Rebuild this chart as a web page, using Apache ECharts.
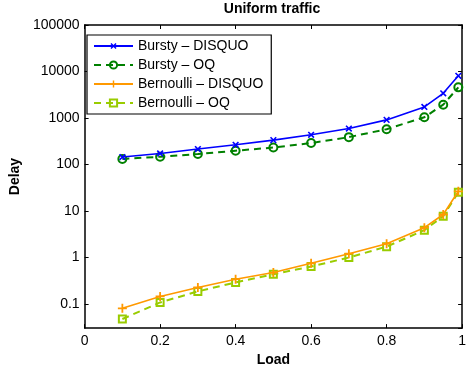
<!DOCTYPE html>
<html>
<head>
<meta charset="utf-8">
<script src="https://cdn.jsdelivr.net/npm/echarts@6/dist/echarts.min.js"></script>
<style>html,body{margin:0;padding:0;background:#fff}#c{width:469px;height:372px}</style>
</head>
<body>
<div id="c"></div>
<script>
const loads = [0.1, 0.2, 0.3, 0.4, 0.5, 0.6, 0.7, 0.8, 0.9, 0.95, 0.99];
const burstyDisquo = [144, 172, 214, 264, 333, 433, 591, 908, 1725, 3390, 8070];
const burstyOQ = [131, 146, 167, 197, 231, 288, 386, 573, 1035, 1930, 4550];
const bernoulliDisquo = [0.080, 0.144, 0.225, 0.339, 0.471, 0.745, 1.20, 1.97, 4.34, 8.36, 26.4];
const bernoulliOQ = [0.047, 0.107, 0.185, 0.288, 0.433, 0.634, 0.99, 1.70, 3.85, 7.69, 25.1];
const seriesNames = ['Bursty \u2013 DISQUO', 'Bursty \u2013 OQ', 'Bernoulli \u2013 DISQUO', 'Bernoulli \u2013 OQ'];
const yTickLabels = ['0.1', '1', '10', '100', '1000', '10000', '100000'];

const FONT = "'Liberation Sans', Arial, Helvetica, sans-serif";
const plus = 'path://M4,0H6V10H4Z M0,4H10V6H0Z';
const pair = arr => loads.map((x, i) => [x, arr[i]]);

const chart = echarts.init(document.getElementById('c'), null, {renderer: 'canvas'});
const tickStyle = {show: true, inside: true, length: 4, lineStyle: {color: '#000', width: 1}};
const lineStyleAx = {show: true, onZero: false, lineStyle: {color: '#000', width: 1.5}};

chart.setOption({
  animation: false,
  backgroundColor: '#fff',
  textStyle: {fontFamily: FONT},
  title: {
    text: 'Uniform traffic', left: 272, top: 2, padding: 0, textAlign: 'center',
    textStyle: {fontFamily: FONT, fontSize: 14, fontWeight: 'bold', color: '#000'}
  },
  grid: {left: 77, right: 1, top: 25, bottom: 41, containLabel: false},
  legend: {
    orient: 'vertical', left: 87, top: 35,
    data: seriesNames,
    itemWidth: 39, itemHeight: 9, itemGap: 5,
    padding: [4, 8, 4, 6],
    borderColor: '#000', borderWidth: 1.2, backgroundColor: '#fff',
    textStyle: {fontFamily: FONT, fontSize: 14, color: '#000', lineHeight: 14}
  },
  xAxis: [{
    type: 'value', min: 0, max: 1, interval: 0.2, position: 'bottom',
    name: 'Load', nameLocation: 'middle', nameGap: 20,
    nameTextStyle: {fontFamily: FONT, fontSize: 14, fontWeight: 'bold', color: '#000'},
    axisLine: lineStyleAx, axisTick: tickStyle, splitLine: {show: false},
    axisLabel: {fontFamily: FONT, fontSize: 14, color: '#000', margin: 6}
  }, {
    type: 'value', min: 0, max: 1, interval: 0.2, position: 'top',
    axisLine: lineStyleAx, axisTick: tickStyle, splitLine: {show: false},
    axisLabel: {show: false}
  }],
  yAxis: [{
    type: 'log', logBase: 10, min: 0.03, max: 100000, position: 'left',
    name: 'Delay', nameLocation: 'middle', nameGap: 57,
    nameTextStyle: {fontFamily: FONT, fontSize: 14, fontWeight: 'bold', color: '#000'},
    axisLine: lineStyleAx, axisTick: tickStyle, splitLine: {show: false},
    axisLabel: {
      fontFamily: FONT, fontSize: 14, color: '#000', margin: 5, showMinLabel: false,
      formatter: v => {
        const e = Math.round(Math.log10(v));
        if (Math.abs(Math.log10(v) - e) > 1e-6) return '';
        return yTickLabels[e + 1] || '';
      }
    }
  }, {
    type: 'log', logBase: 10, min: 0.03, max: 100000, position: 'right',
    axisLine: lineStyleAx, axisTick: tickStyle, splitLine: {show: false},
    axisLabel: {show: false}
  }],
  series: [{
    name: seriesNames[0], type: 'line', data: pair(burstyDisquo),
    symbol: plus, symbolRotate: 45, symbolSize: 8, showAllSymbol: true,
    lineStyle: {color: '#0000ff', width: 1.6},
    itemStyle: {color: '#0000ff'}, z: 4
  }, {
    name: seriesNames[1], type: 'line', data: pair(burstyOQ),
    symbol: 'circle', symbolSize: 8, showAllSymbol: true,
    lineStyle: {color: '#008000', width: 2, type: [7, 5]},
    itemStyle: {color: 'rgba(255,255,255,0)', borderColor: '#008000', borderWidth: 2}, z: 3
  }, {
    name: seriesNames[2], type: 'line', data: pair(bernoulliDisquo),
    symbol: plus, symbolSize: 9, showAllSymbol: true,
    lineStyle: {color: '#ff9900', width: 1.6},
    itemStyle: {color: '#ff9900'}, z: 4
  }, {
    name: seriesNames[3], type: 'line', data: pair(bernoulliOQ),
    symbol: 'rect', symbolSize: 7, showAllSymbol: true,
    lineStyle: {color: '#99cc00', width: 2, type: [7, 5]},
    itemStyle: {color: 'rgba(255,255,255,0)', borderColor: '#99cc00', borderWidth: 2}, z: 3
  }]
});
</script>
</body>
</html>
